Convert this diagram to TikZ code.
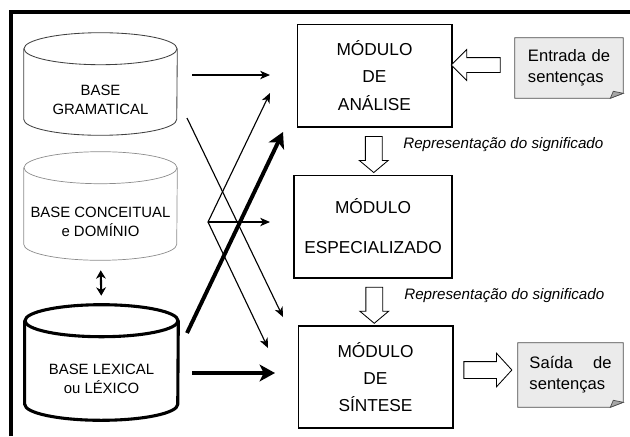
\documentclass[tikz,border=0pt]{standalone}
\usepackage{fontspec}
\setmainfont{Liberation Sans}
\usetikzlibrary{arrows.meta,shapes.arrows,calc,backgrounds}

% cylinder drawn round a base node: #1 node name, #2 line style
\newcommand{\cilindro}[2]{%
  \draw[#2] ([yshift=0.4cm]#1.north) ellipse [x radius=1.9125cm, y radius=0.4cm];
  \draw[#2] ([yshift=0.4cm]#1.north west) -- ([yshift=0.4cm]#1.south west)
    arc [start angle=180, end angle=360, x radius=1.9125cm, y radius=0.4cm]
    -- ([yshift=0.4cm]#1.north east);
}
% sheet with folded corner round a document node
\newcommand{\folha}[1]{%
  \begin{pgfonlayer}{background}
  \filldraw[fill=black!8, draw=black!70, line width=0.5pt] (#1.north west) -- (#1.north east)
    -- ([yshift=0.125cm]#1.south east) -- ([xshift=-0.325cm]#1.south east) -- (#1.south west) -- cycle;
  \filldraw[fill=black!35, draw=black!70, line width=0.5pt] ([yshift=0.125cm]#1.south east)
    -- ([xshift=-0.325cm]#1.south east) -- ([xshift=-0.25cm,yshift=0.175cm]#1.south east) -- cycle;
  \end{pgfonlayer}
}

\begin{document}
\begin{tikzpicture}[x=0.025cm, y=0.025cm]
    \tikzstyle{base}=[minimum width=3.825cm, inner sep=0pt, align=center, font=\fontsize{10.6}{13.5}\selectfont]
    \tikzstyle{modulo}=[draw, line width=1.4pt, minimum width=3.85cm, minimum height=2.55cm, align=center, font=\fontsize{12.3}{19.5}\selectfont]
    \tikzstyle{documento}=[minimum height=1.5cm, text width=2.05cm, align=left, inner sep=0pt, font=\fontsize{11.8}{15}\selectfont]
    \tikzstyle{seta oca}=[single arrow, draw, line width=0.6pt, fill=white]
    \tikzstyle{rotulo}=[anchor=west, inner sep=0pt, font=\itshape\fontsize{10.8}{12}\selectfont]
    \tikzstyle{fina}=[line width=0.8pt, -{Stealth[length=7pt,width=6pt,inset=2pt]}]
    \tikzstyle{grossa}=[line width=2.8pt, -{Stealth[length=11pt,width=12pt,inset=3pt]}]
    \tikzstyle{dupla}=[line width=1.5pt, {Stealth[length=6pt,width=7pt]}-{Stealth[length=6pt,width=7pt]}]

    \useasboundingbox (0,0) rectangle (630,-436);

    % frame
    \draw[line width=2.8pt] (11,-436) -- (11,-12) -- (630,-12);

    % the three bases
    \node[base, minimum height=1.75cm] (gram) at (100.5,-100) {BASE\\GRAMATICAL};
    \node[base, minimum height=1.9cm] (conc) at (100.5,-222) {BASE CONCEITUAL\\e DOMÍNIO};
    \node[base, minimum height=2.075cm] (lex) at (101.5,-378.5) {BASE LEXICAL\\ou LÉXICO};
    \cilindro{gram}{draw=black!75, line width=0.6pt}
    \cilindro{conc}{draw=black!45, line width=0.5pt}
    \cilindro{lex}{draw=black, line width=2.2pt}

    \draw[dupla, shorten <=0.25cm, shorten >=0.225cm] (conc.south) -- ([yshift=0.8cm]lex.north);

    % the modules
    \node[modulo] (analise) at (374.5,-75.5) {MÓDULO\\DE\\ANÁLISE};
    \node[modulo, minimum width=3.95cm] (especial) at (373,-226.5) {MÓDULO\\[9pt]ESPECIALIZADO};
    \node[modulo] (sintese) at (375.5,-377) {MÓDULO\\DE\\SÍNTESE};

    % input and output sentences
    \node[documento, minimum width=2.7cm] (entrada) at (569,-68) {\hbox to 2.05cm{Entrada\hfill de}\\sentenças};
    \node[documento, minimum width=2.625cm, minimum height=1.6cm] (saida) at (570.5,-375) {\hbox to 2.05cm{Saída\hfill de}\\sentenças};
    \folha{entrada}
    \folha{saida}

    % hollow arrows
    \node[seta oca, shape border rotate=180, inner sep=0.175cm, minimum height=1.225cm,
        minimum width=0.75cm, single arrow head extend=0.2cm, single arrow tip angle=90] (seta-entrada) at (479.5,-65) {};
    \node[seta oca, shape border rotate=270, inner sep=0.2cm, minimum height=0.9cm,
        minimum width=0.7cm, single arrow head extend=0.15cm, single arrow tip angle=100] (seta-rep1)
        at ($(analise.south)!0.5!(especial.north)$) {};
    \node[seta oca, shape border rotate=270, inner sep=0.2cm, minimum height=0.9cm,
        minimum width=0.7cm, single arrow head extend=0.15cm, single arrow tip angle=100] (seta-rep2)
        at ($(especial.south)!0.5!(sintese.north)$) {};
    \node[seta oca, inner sep=0.2cm, minimum height=1.2cm,
        minimum width=0.82cm, single arrow head extend=0.21cm, single arrow tip angle=95] (seta-saida) at (484,-370) {};

    \node[rotulo] (rep1) at (403,-145) {Representação do significado};
    \node[rotulo] (rep2) at (404,-296) {Representação do significado};

    % free ends of the crossing arrows
    \coordinate (gram-a) at (192,-75);
    \coordinate (gram-s) at (187,-118);
    \coordinate (ramo) at (208,-222);
    \coordinate (lex-a) at (187,-333);
    \coordinate (lex-s) at (192,-373);
    \coordinate (in-a1) at (270,-75);
    \coordinate (in-a2) at (270,-93);
    \coordinate (in-a3) at (283,-132);
    \coordinate (in-e) at (270,-222);
    \coordinate (in-s1) at (283,-317);
    \coordinate (in-s2) at (268,-348);
    \coordinate (in-s3) at (275,-373);

    \draw[fina] (gram-a) -- (in-a1);
    \draw[fina] (gram-s) -- (in-s1);
    \foreach \dest in {in-a2,in-e,in-s2}
        \draw[fina] (ramo) -- (\dest);
    \draw[grossa] (lex-a) -- (in-a3);
    \draw[grossa] (lex-s) -- (in-s3);

\end{tikzpicture}
\end{document}
